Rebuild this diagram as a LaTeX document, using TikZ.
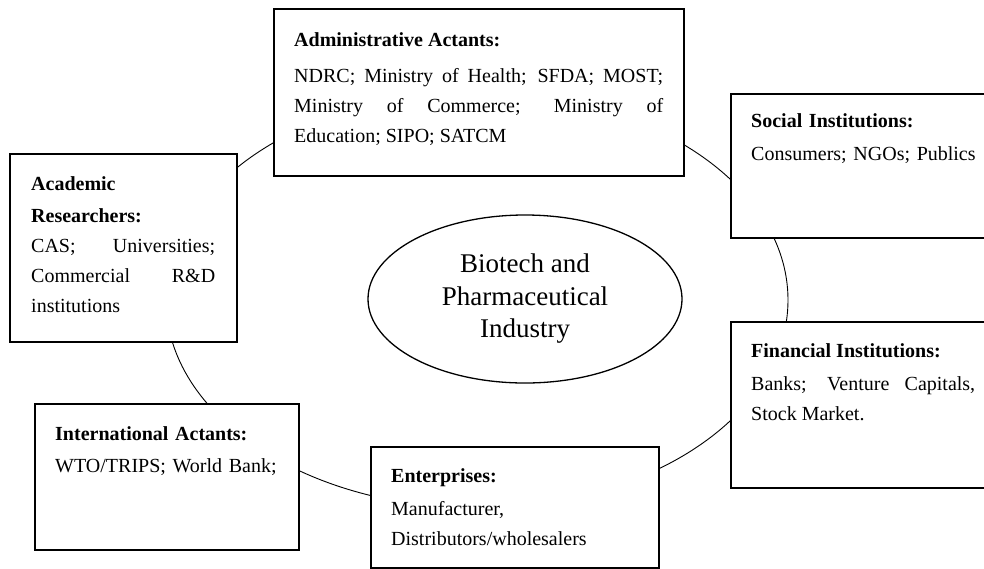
\documentclass[tikz,border=0pt]{standalone}
\usepackage{fontspec}
\setmainfont{Liberation Serif}
\usetikzlibrary{shapes.geometric}
\tikzset{
  ringline/.style={draw, ellipse, line width=0.9pt, inner sep=0pt},
  actbox/.style={draw, fill=white, line width=1.8pt, rectangle, anchor=north west, inner sep=0pt},
  acttext/.style={anchor=north west, inner sep=0pt, align=justify, font=\fontsize{20}{30}\selectfont},
  acttextl/.style={anchor=north west, inner sep=0pt, align=left, font=\fontsize{20}{30}\selectfont},
  core/.style={draw, ellipse, line width=1.3pt, fill=white, inner sep=0pt, align=center, font=\fontsize{27}{32.5}\selectfont}
}
\newcommand{\firstline}{\rule{0pt}{22pt}}
\begin{document}
\begin{tikzpicture}[x=1pt, y=-1pt]
\useasboundingbox (0,0) rectangle (984,568);
% ring behind the boxes
\node[ringline, minimum width=622pt, minimum height=416pt] (ring) at (477,300) {};
% boxes
\node[actbox, minimum width=410pt, minimum height=167pt] (admin) at (273,8) {};
\node[actbox, minimum width=227pt, minimum height=188pt] (acad) at (9,153) {};
\node[actbox, minimum width=260pt, minimum height=144pt] (social) at (730,93) {};
\node[actbox, minimum width=260pt, minimum height=166pt] (fin) at (730,321) {};
\node[actbox, minimum width=264pt, minimum height=146pt] (intl) at (34,403) {};
\node[actbox, minimum width=288pt, minimum height=121pt] (ent) at (370,446) {};
% texts
\node[acttext, text width=369pt] (admintxt) at (294,24)
  {\firstline\textbf{Administrative Actants:}\\[6pt]
   NDRC; Ministry of Health; SFDA; MOST;\linebreak
   Ministry of Commerce; Ministry of\linebreak
   Education; SIPO; SATCM};
\node[acttext, text width=184pt] (acadtxt) at (31,168)
  {\firstline\textbf{Academic}\\[2pt]
   \textbf{Researchers:}\\
   CAS; Universities;\linebreak
   Commercial R\&D\linebreak
   institutions};
\node[acttextl, text width=231pt] (socialtxt) at (751,105)
  {\firstline\textbf{Social Institutions:}\\[3pt]
   Consumers; NGOs; Publics};
\node[acttext, text width=224pt] (fintxt) at (751,335)
  {\firstline\textbf{Financial Institutions:}\\[3pt]
   Banks; Venture Capitals,\linebreak
   Stock Market.};
\node[acttextl, text width=235pt] (intltxt) at (55,418)
  {\firstline\textbf{International Actants:}\\[2pt]
   WTO/TRIPS; World Bank;};
\node[acttextl, text width=260pt] (enttxt) at (391,460)
  {\firstline\textbf{Enterprises:}\\[3pt]
   Manufacturer,\\
   Distributors/wholesalers};
% core
\node[core, minimum width=314pt, minimum height=168pt] (core) at (525,299)
  {Biotech and\\Pharmaceutical\\Industry};
\end{tikzpicture}
\end{document}
